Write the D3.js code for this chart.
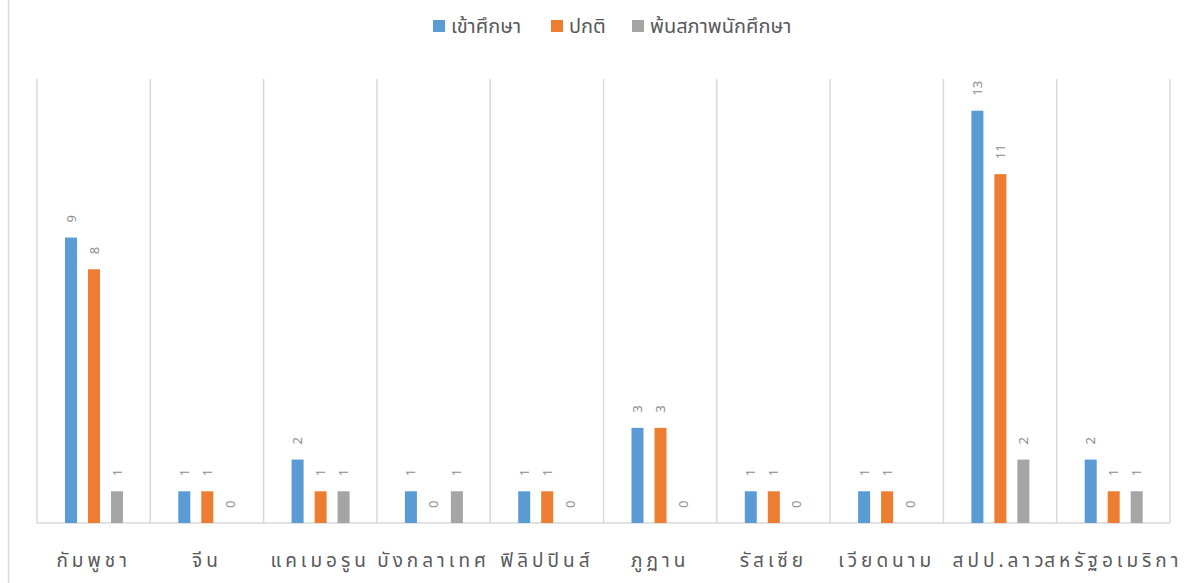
<!DOCTYPE html>
<html>
<head>
<meta charset="utf-8">
<script src="https://cdn.jsdelivr.net/npm/d3@7/dist/d3.min.js"></script>
<style>
  body { margin: 0; background: #fff; }
  svg { font-family: "Noto Sans Thai", "Noto Sans", "DejaVu Sans", sans-serif; }
</style>
</head>
<body>
<svg id="chart" width="1196" height="583"></svg>
<script>
const categories = ['กัมพูชา', 'จีน', 'แคเมอรูน', 'บังกลาเทศ', 'ฟิลิปปินส์', 'ภูฏาน', 'รัสเซีย', 'เวียดนาม', 'สปป.ลาว', 'สหรัฐอเมริกา']
const seriesNames = ['เข้าศึกษา', 'ปกติ', 'พ้นสภาพนักศึกษา']
const seriesColors = ['#5b9bd5', '#ed7d31', '#a5a5a5']
const enrolled = [9, 1, 2, 1, 1, 3, 1, 1, 13, 2]
const normal = [8, 1, 1, 0, 1, 3, 1, 1, 11, 1]
const dismissed = [1, 0, 1, 1, 0, 0, 0, 0, 2, 1]

const seriesValues = [enrolled, normal, dismissed]
const data = []
categories.forEach((c, i) => {
    seriesValues.forEach((vals, s) => {
        data.push({ cat: c, series: s, value: vals[i] })
    })
})

const svg = d3.select('#chart')
const DIM = { left: 37, right: 1170, top: 79, bottom: 523 }

// chart frame edge on the left
svg.append('line')
    .attr('x1', 8.5).attr('x2', 8.5)
    .attr('y1', 0).attr('y2', 583)
    .attr('stroke', '#d9d9d9').attr('stroke-width', 1.5)

const x = d3.scaleBand()
    .domain(categories)
    .range([DIM.left, DIM.right])
// 12px bars on a 23px step inside each category
const xInner = d3.scaleBand()
    .domain([0, 1, 2])
    .range([28, 86])
    .paddingInner(11 / 23)
const y = d3.scaleLinear()
    .domain([0, 14])
    .range([DIM.bottom, DIM.top])

// vertical gridlines between categories
const bounds = categories.map(c => x(c)).concat([DIM.right])
svg.append('g').selectAll('line')
    .data(bounds)
    .join('line')
    .attr('x1', d => d).attr('x2', d => d)
    .attr('y1', DIM.top).attr('y2', DIM.bottom)
    .attr('stroke', '#d9d9d9').attr('stroke-width', 1.5)

svg.append('line')
    .attr('x1', DIM.left).attr('x2', DIM.right)
    .attr('y1', DIM.bottom).attr('y2', DIM.bottom)
    .attr('stroke', '#d9d9d9').attr('stroke-width', 1.5)

svg.append('g').selectAll('rect')
    .data(data.filter(d => d.value > 0))
    .join('rect')
    .attr('x', d => x(d.cat) + xInner(d.series))
    .attr('y', d => y(d.value))
    .attr('width', xInner.bandwidth())
    .attr('height', d => y(0) - y(d.value))
    .attr('fill', d => seriesColors[d.series])

// rotated value labels, reading bottom to top
svg.append('g').selectAll('text')
    .data(data)
    .join('text')
    .attr('transform', d => {
        const cx = x(d.cat) + xInner(d.series) + xInner.bandwidth() / 2
        return `translate(${cx}, ${y(d.value) - 15}) rotate(-90)`
    })
    .attr('text-anchor', 'start')
    .attr('dy', '0.35em')
    .attr('fill', '#8c8c8c')
    .attr('font-size', 13)
    .text(d => d.value)

// category labels
const xAxis = d3.axisBottom(x).tickSize(0).tickPadding(0)
const axisG = svg.append('g')
    .attr('transform', `translate(0, ${DIM.bottom})`)
    .call(xAxis)
axisG.select('.domain').remove()
axisG.selectAll('text')
    .attr('y', 44)
    .attr('dy', 0)
    .attr('fill', '#595959')
    .attr('font-size', 19)
    .attr('letter-spacing', 4)
    .attr('font-family', '"Noto Sans Thai", "Noto Sans", sans-serif')

// legend
const legendX = [433, 551, 632]
const legend = svg.append('g').selectAll('g')
    .data(seriesNames)
    .join('g')
    .attr('transform', (d, i) => `translate(${legendX[i]}, 20)`)
legend.append('rect')
    .attr('width', 12).attr('height', 12)
    .attr('fill', (d, i) => seriesColors[i])
legend.append('text')
    .attr('x', 18).attr('y', 13)
    .attr('fill', '#595959')
    .attr('font-size', 20)
    .text(d => d)
</script>
</body>
</html>
